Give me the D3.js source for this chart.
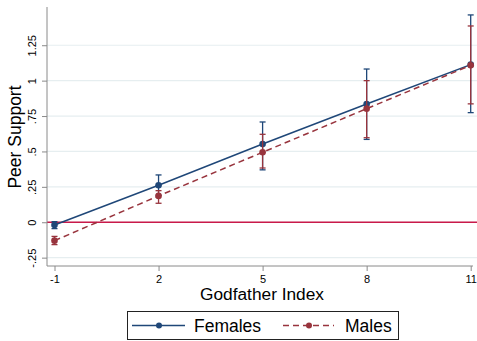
<!DOCTYPE html>
<html>
<head>
<meta charset="utf-8">
<script src="https://cdn.jsdelivr.net/npm/d3@7"></script>
<style>
  body { margin: 0; background: #fff; }
  svg { display: block; font-family: "Liberation Sans", Arial, sans-serif; }
</style>
</head>
<body>
<svg id="chart" width="477" height="341"></svg>
<script>
// data
const godfather = [-1, 2, 5, 8, 11];
const femaleEst = [-0.02, 0.261, 0.553, 0.835, 1.113];
const femaleLo = [-0.045, 0.19, 0.37, 0.585, 0.774];
const femaleHi = [0.004, 0.334, 0.708, 1.082, 1.464];
const maleEst = [-0.13, 0.186, 0.494, 0.802, 1.108];
const maleLo = [-0.158, 0.134, 0.383, 0.597, 0.836];
const maleHi = [-0.10, 0.223, 0.621, 1.0, 1.386];
const yTicks = [-0.25, 0, 0.25, 0.5, 0.75, 1, 1.25];
const yTickLabels = ["-.25", "0", ".25", ".5", ".75", "1", "1.25"];
const xTickLabels = ["-1", "2", "5", "8", "11"];

const navy = "#1f4778";
const maroon = "#98343d";

const svg = d3.select("svg#chart");

// scales
const x = d3.scaleLinear().domain([-1, 11]).range([54.5, 470.7]);
const y = d3.scaleLinear().domain([-0.309, 1.52]).range([266, 7]);

// gridlines
svg.append("g").selectAll("line")
    .data(yTicks)
    .join("line")
    .attr("x1", 47).attr("x2", 477)
    .attr("y1", d => y(d)).attr("y2", d => y(d))
    .attr("stroke", "#e6eef0")
    .attr("stroke-width", 1.2);

// zero reference line
svg.append("line")
    .attr("x1", 47).attr("x2", 477)
    .attr("y1", y(0)).attr("y2", y(0))
    .attr("stroke", "#c9194a")
    .attr("stroke-width", 1.5);

// y axis
const yAxis = svg.append("g")
    .attr("transform", "translate(47,0)")
    .call(d3.axisLeft(y).tickValues(yTicks).tickSize(5).tickPadding(8)
        .tickFormat((d, i) => yTickLabels[i]));
yAxis.select(".domain").attr("stroke", "#8a8a8a").attr("d", "M0,7V266");
yAxis.selectAll(".tick line").attr("stroke", "#8a8a8a");
yAxis.selectAll(".tick text")
    .attr("font-size", 11)
    .attr("fill", "#000")
    .attr("transform", "rotate(-90)")
    .attr("text-anchor", "middle")
    .attr("x", 0)
    .attr("dy", 0)
    .attr("y", -11);

// x axis
const xAxis = svg.append("g")
    .attr("transform", "translate(0,266)")
    .call(d3.axisBottom(x).tickValues(godfather).tickSize(5).tickPadding(4)
        .tickFormat((d, i) => xTickLabels[i]));
xAxis.select(".domain").attr("stroke", "#8a8a8a").attr("d", "M47,0H473");
xAxis.selectAll(".tick line").attr("stroke", "#8a8a8a");
xAxis.selectAll(".tick text").attr("font-size", 11).attr("fill", "#000");

// axis titles
svg.append("text")
    .attr("transform", "translate(21,137) rotate(-90)")
    .attr("text-anchor", "middle")
    .attr("font-size", 17.5)
    .text("Peer Support");

svg.append("text")
    .attr("x", 262).attr("y", 300)
    .attr("text-anchor", "middle")
    .attr("font-size", 17.3)
    .text("Godfather Index");

// series
function drawSeries(est, lo, hi, color, dash) {
    const g = svg.append("g");
    const pts = godfather.map((v, i) => [x(v), y(est[i])]);
    g.append("path")
        .attr("d", d3.line()(pts))
        .attr("fill", "none")
        .attr("stroke", color)
        .attr("stroke-width", 1.5)
        .attr("stroke-dasharray", dash);
    const bars = g.selectAll("g.ci").data(godfather).join("g").attr("class", "ci");
    bars.append("line")
        .attr("x1", d => x(d)).attr("x2", d => x(d))
        .attr("y1", (d, i) => y(lo[i])).attr("y2", (d, i) => y(hi[i]))
        .attr("stroke", color).attr("stroke-width", 1.3);
    [lo, hi].forEach(arr => {
        bars.append("line")
            .attr("x1", d => x(d) - 3).attr("x2", d => x(d) + 3)
            .attr("y1", (d, i) => y(arr[i])).attr("y2", (d, i) => y(arr[i]))
            .attr("stroke", color).attr("stroke-width", 1.3);
    });
    g.selectAll("circle").data(godfather).join("circle")
        .attr("cx", d => x(d)).attr("cy", (d, i) => y(est[i]))
        .attr("r", 3.3)
        .attr("fill", color);
}

drawSeries(femaleEst, femaleLo, femaleHi, navy, null);
drawSeries(maleEst, maleLo, maleHi, maroon, "6,4");

// legend
const legend = svg.append("g");
legend.append("rect")
    .attr("x", 127.5).attr("y", 311.5)
    .attr("width", 271).attr("height", 28)
    .attr("fill", "#fff")
    .attr("stroke", "#222")
    .attr("stroke-width", 1);

const legendItems = [
    { name: "Females", color: navy, dash: null, x0: 132, x1: 185, mx: 159, tx: 194 },
    { name: "Males", color: maroon, dash: "6,4", x0: 283, x1: 334, mx: 309, tx: 345 }
];
legendItems.forEach(it => {
    legend.append("line")
        .attr("x1", it.x0).attr("x2", it.x1)
        .attr("y1", 325.5).attr("y2", 325.5)
        .attr("stroke", it.color).attr("stroke-width", 1.5)
        .attr("stroke-dasharray", it.dash);
    legend.append("circle")
        .attr("cx", it.mx).attr("cy", 325.5).attr("r", 3)
        .attr("fill", it.color);
    legend.append("text")
        .attr("x", it.tx).attr("y", 331.7)
        .attr("font-size", 17.5)
        .text(it.name);
});
</script>
</body>
</html>
